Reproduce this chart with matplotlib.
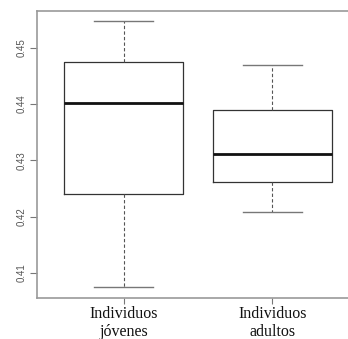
import matplotlib
matplotlib.use("Agg")
import matplotlib.pyplot as plt

# Five-number summaries for each group
groups = ["Individuos\njóvenes", "Individuos\nadultos"]
whisker_low = [0.4075, 0.4208]
q1 = [0.4240, 0.4261]
median = [0.4402, 0.4311]
q3 = [0.4475, 0.4389]
whisker_high = [0.4547, 0.4469]

yticks = [0.41, 0.42, 0.43, 0.44, 0.45]

stats = []
for i, name in enumerate(groups):
    stats.append(dict(label=name, whislo=whisker_low[i], q1=q1[i], med=median[i],
                      q3=q3[i], whishi=whisker_high[i], fliers=[]))

fig = plt.figure(figsize=(3.48, 3.39), dpi=100)
ax = fig.add_axes([0.1072, 0.1218, 0.9236, 0.8466])

ax.bxp(stats, positions=[1, 2], widths=0.8, capwidths=0.4, showfliers=False,
       boxprops=dict(color="#333333", linewidth=0.9),
       medianprops=dict(color="#111111", linewidth=2.0),
       whiskerprops=dict(color="#555555", linewidth=0.8, linestyle=(0, (3, 2))),
       capprops=dict(color="#777777", linewidth=1.0))

lo = min(whisker_low)
hi = max(whisker_high)
pad = 0.04 * (hi - lo)
ax.set_ylim(lo - pad, hi + pad)
ax.set_xlim(0.42, 2.58)

ax.set_yticks(yticks)
ax.set_yticklabels([f"{v:.2f}" for v in yticks], rotation=90, va="center",
                   fontsize=7, color="#555555", family="Liberation Sans")
ax.set_xticks([1, 2])
ax.set_xticklabels(groups, fontsize=11.5, family="Liberation Serif", color="#111111",
                   linespacing=1.2)

ax.tick_params(axis="y", length=5, width=0.8, color="#777777", pad=3)
ax.tick_params(axis="x", length=4.5, width=0.8, color="#777777", pad=1.5)

for side in ["left", "bottom", "top", "right"]:
    ax.spines[side].set_color("#999999")
    ax.spines[side].set_linewidth(1.2)

fig.savefig("out.png", dpi=100)
